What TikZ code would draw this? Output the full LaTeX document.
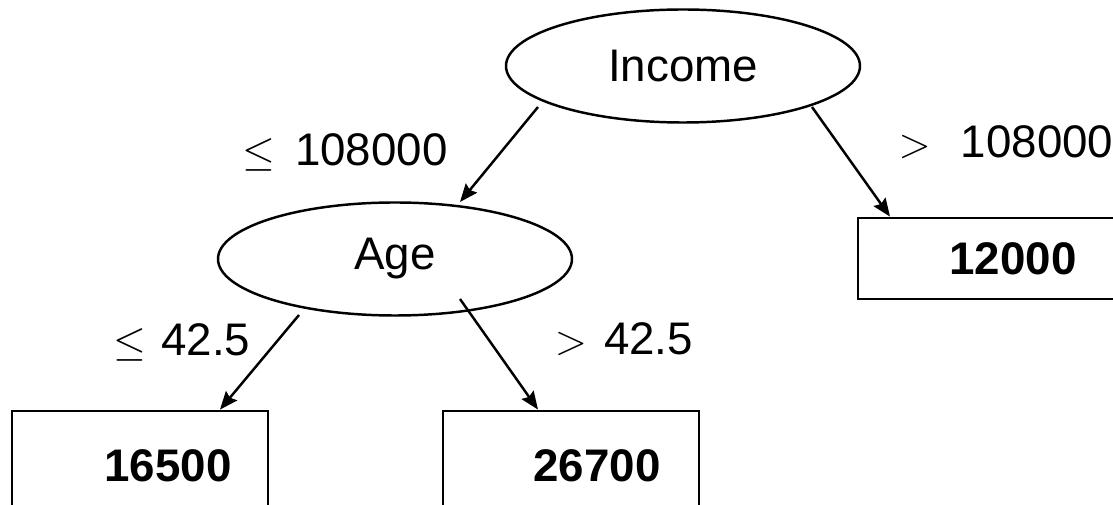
\documentclass[tikz,border=0pt]{standalone}
\usepackage{fontspec}
\setmainfont{Liberation Sans}
\usepackage{tikz}
\usetikzlibrary{arrows.meta,shapes.geometric}

\begin{document}
\begin{tikzpicture}[>={Stealth[length=1.8mm,width=1.45mm,inset=0.25mm]},
  every node/.style={font=\fontsize{13}{15}\selectfont},
  split/.style={ellipse,draw,line width=0.7pt,minimum width=3.54cm,minimum height=1.13cm,inner sep=0pt},
  leaf/.style={draw,line width=0.8pt,minimum width=2.56cm,inner sep=0pt,font=\fontsize{13}{15}\selectfont\bfseries},
  branch/.style={->,line width=0.7pt}]
  \clip (0,0) rectangle (11.13,5.05);
  % splits
  \node[split] (income) at (6.83,4.39) {Income};
  \node[split] (age) at (3.95,2.46) {Age};
  % leaves
  \node[leaf,minimum height=0.81cm] (right) at (9.86,2.465) {\hspace*{0.54cm}12000};
  \node[leaf,minimum height=1.10cm] (young) at (1.40,0.39) {\hspace*{0.56cm}16500};
  \node[leaf,minimum height=1.10cm] (old) at (5.71,0.39) {\hspace*{0.52cm}26700};
  % branches
  \draw[branch] ([shift={(-1.45,-0.41)}]income.center) -- ([shift={(0.65,0.57)}]age.center);
  \draw[branch] ([shift={(1.29,-0.41)}]income.center) -- ([xshift=-0.96cm]right.north);
  \draw[branch] ([shift={(-0.96,-0.56)}]age.center) -- ([xshift=0.80cm]young.north);
  \draw[branch] ([shift={(0.65,-0.40)}]age.center) -- ([xshift=-0.33cm]old.north);
  % conditions
  \node (lowinc) at (3.45,3.53) {$\leq$\hspace{0.2cm}108000};
  \node (highinc) at (10.06,3.63) {$>$\hspace{0.3cm}108000};
  \node (lowage) at (1.82,1.63) {$\leq$\hspace{0.15cm}42.5};
  \node (highage) at (6.24,1.66) {$>$\hspace{0.17cm}42.5};
\end{tikzpicture}
\end{document}
